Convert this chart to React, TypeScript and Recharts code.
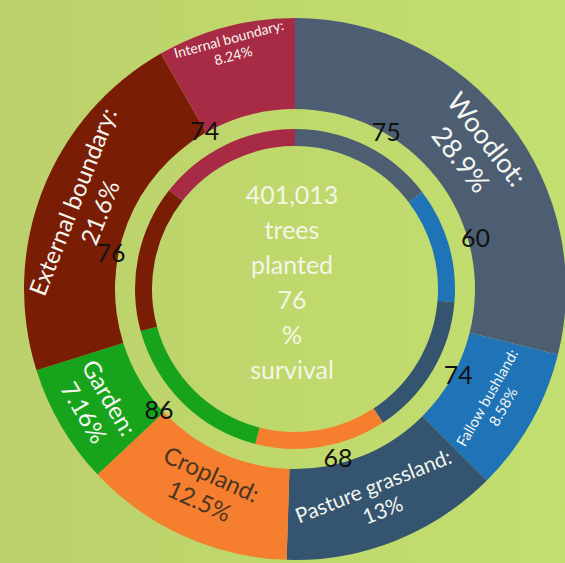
import React from "react";
import { PieChart, Pie, Cell } from "recharts";

const categories = [
  "Woodlot",
  "Fallow bushland",
  "Pasture grassland",
  "Cropland",
  "Garden",
  "External boundary",
  "Internal boundary",
];
const plantedShare = [28.9, 8.58, 13, 12.5, 7.16, 21.6, 8.24];
const survivalRate = [75, 60, 74, 68, 86, 76, 74];
const centerLines = ["401,013", "trees", "planted", "76", "%", "survival"];

const colors = ["#4d5e73", "#1f73b7", "#34546f", "#f57f2e", "#17a31b", "#7a1d05", "#a82b45"];
const labelSizes = [27, 15, 21, 24, 24, 24, 14];
const labelRadius = [227, 230, 225, 218, 230, 224, 250];
const labelColors = ["#f4f6f0", "#f4f6f0", "#f4f6f0", "#4a3522", "#f4f6f0", "#f4f6f0", "#f4f6f0"];

const outerData = categories.map((name, i) => ({ name, value: plantedShare[i] }));
const innerData = categories.map((name, i) => ({ name, value: survivalRate[i] }));

const RAD = Math.PI / 180;
const FONT = "Lato, 'Open Sans', sans-serif";

const OuterLabel = (props: any) => {
  const { cx, cy, midAngle, index } = props;
  const r = labelRadius[index];
  const x = cx + r * Math.cos(-midAngle * RAD);
  const y = cy + r * Math.sin(-midAngle * RAD);
  let rot = (((90 - midAngle) % 360) + 360) % 360;
  if (rot > 90 && rot < 270) rot -= 180;
  const fs = labelSizes[index];
  return (
    <text
      x={x}
      y={y}
      transform={`rotate(${rot} ${x} ${y})`}
      textAnchor="middle"
      fill={labelColors[index]}
      fontSize={fs}
      fontFamily={FONT}
    >
      <tspan x={x} dy={-fs * 0.25}>{categories[index] + ":"}</tspan>
      <tspan x={x} dy={fs * 1.22}>{plantedShare[index] + "%"}</tspan>
    </text>
  );
};

const InnerLabel = (props: any) => {
  const { cx, cy, midAngle, index } = props;
  const r = 173;
  const x = cx + r * Math.cos(-midAngle * RAD);
  const y = cy + r * Math.sin(-midAngle * RAD) - 3;
  return (
    <text
      x={x}
      y={y}
      textAnchor={x > cx ? "start" : "end"}
      dominantBaseline="central"
      fill="#111"
      fontSize={25}
      fontFamily={FONT}
    >
      {survivalRate[index]}
    </text>
  );
};

export default function App() {
  return (
    <div
      style={{
        position: "fixed",
        left: 0,
        top: 0,
        width: 565,
        height: 563,
        background: "linear-gradient(90deg, #bcd06c 0%, #bfd86c 50%, #c3df70 100%)",
        overflow: "hidden",
      }}
    >
      <PieChart width={565} height={563}>
        <Pie
          data={outerData}
          dataKey="value"
          cx={290}
          cy={284}
          innerRadius={180}
          outerRadius={271}
          startAngle={90}
          endAngle={-270}
          stroke="none"
          isAnimationActive={false}
          label={OuterLabel}
          labelLine={false}
        >
          {outerData.map((d, i) => (
            <Cell key={d.name} fill={colors[i]} />
          ))}
        </Pie>
        <Pie
          data={innerData}
          dataKey="value"
          cx={290}
          cy={284}
          innerRadius={143}
          outerRadius={160}
          startAngle={90}
          endAngle={-270}
          stroke="none"
          isAnimationActive={false}
          label={InnerLabel}
          labelLine={false}
        >
          {innerData.map((d, i) => (
            <Cell key={d.name} fill={colors[i]} />
          ))}
        </Pie>
      </PieChart>
      <div
        style={{
          position: "absolute",
          left: 190,
          width: 204,
          top: 177,
          textAlign: "center",
          color: "#f3f6e6",
          fontFamily: FONT,
          fontSize: 25,
          lineHeight: "35px",
          pointerEvents: "none",
        }}
      >
        {centerLines.map((l) => (
          <div key={l}>{l}</div>
        ))}
      </div>
    </div>
  );
}
